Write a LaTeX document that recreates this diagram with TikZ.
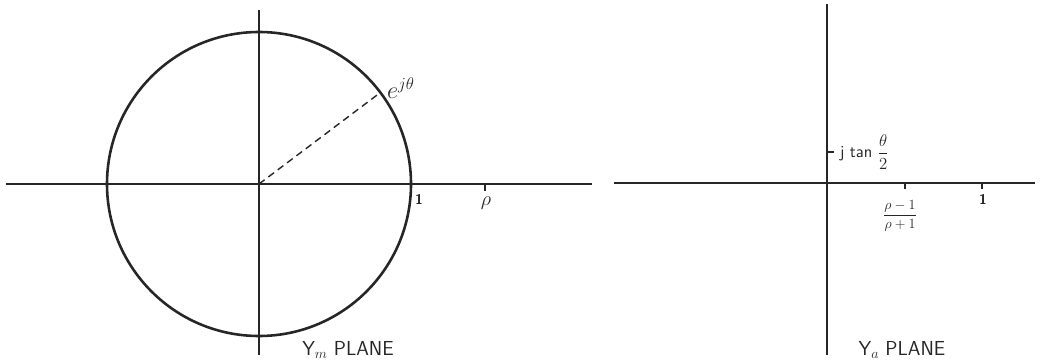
\documentclass[tikz,border=0pt]{standalone}
\usepackage{amsmath}
\begin{document}
\begin{tikzpicture}[x=0.3mm,y=-0.3mm,line width=1.5pt,draw=black!85,
  lbl/.style={font=\sffamily\LARGE,text=black!85,inner sep=1pt}]
  \useasboundingbox (0,0) rectangle (1042,363);
  % Ym plane
  \coordinate (om) at (259,184);
  \draw (6,184)--(592,184);
  \draw (259,10)--(259,355);
  \draw[line width=2.2pt] (om) circle[radius=152];
  \coordinate (ej) at ([shift={(-37:152)}]om);
  \draw[dash pattern=on 6pt off 4pt,line width=1.2pt] (om)--(ej);
  \draw (485,184)--(485,191);
  \node[lbl,anchor=south west,inner sep=0pt,font=\huge] (ejlbl) at ([xshift=5pt,yshift=-6pt]ej) {$e^{j\theta}$};
  \node[lbl,font=\sffamily\bfseries\large] (one) at (419,199) {1};
  \node[lbl] (rho) at (486,203) {$\rho$};
  \node[lbl] (ym) at (348,350) {Y$_m$ PLANE};
  % Ya plane
  \draw (614,183)--(1035,183);
  \draw (827,4)--(827,355);
  \draw (827,152)--(834,152);
  \draw (905,183)--(905,189);
  \draw (982,183)--(982,189);
  \node[lbl,anchor=west,font=\sffamily\Large] (jtan) at (838,152) {j tan $\dfrac{\theta}{2}$};
  \node[lbl,font=\sffamily\large] (frac) at (900,216) {$\dfrac{\rho-1}{\rho+1}$};
  \node[lbl,font=\sffamily\bfseries\large] (one2) at (983,199) {1};
  \node[lbl] (ya) at (902,350) {Y$_a$ PLANE};
\end{tikzpicture}
\end{document}
